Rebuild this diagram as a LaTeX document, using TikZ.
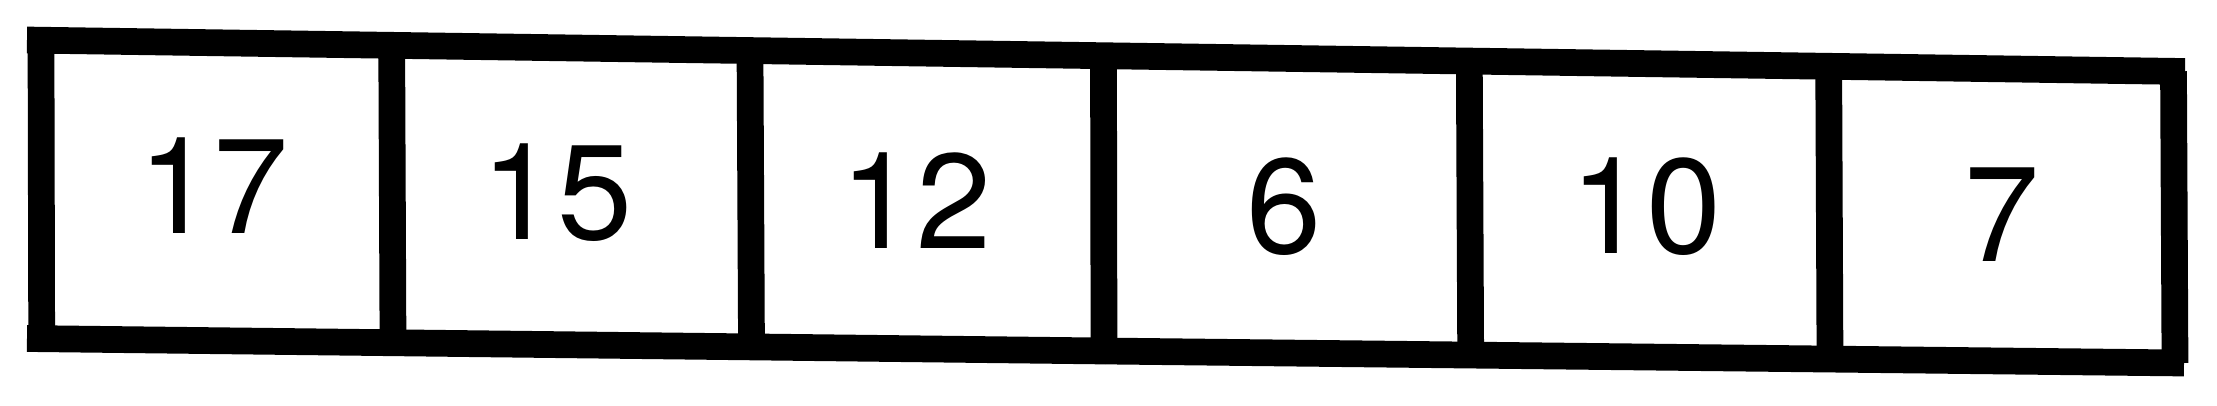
\documentclass[tikz,border=0pt]{standalone}
\usepackage{fontspec}
\setmainfont{TeX Gyre Heros}
\begin{document}
\begin{tikzpicture}[x=0.01cm, y=-0.01cm,
  wall/.style={line width=7.6pt},
  cell/.style={font=\fontsize{38.4}{46}\selectfont}]
  \useasboundingbox (0,0) rectangle (2217,405);
  % ends of the top and bottom bars
  \coordinate (tl) at (27,40);
  \coordinate (tr) at (2185,71.5);
  \coordinate (bl) at (27,338.5);
  \coordinate (bm) at (1106,351);
  \coordinate (br) at (2184,363);
  % cell walls
  \foreach \i/\xt/\yt/\xb/\yb in {0/41/40.2/41.7/338.7, 1/391.7/45.3/393/342.6,
      2/750/50.6/751.5/346.7, 3/1103.5/55.7/1104/350.7, 4/1469.3/61.1/1470.7/354.9,
      5/1828.7/66.3/1830/359, 6/2173.5/71.3/2175/362.9} {
    \coordinate (t\i) at (\xt,\yt);
    \coordinate (b\i) at (\xb,\yb);
    \draw[wall] (t\i) -- (b\i);
  }
  \draw[wall] (tl) -- (tr);
  \draw[wall] (bl) -- (bm);
  \draw[wall] (bm) -- (br);
  % values
  \foreach \val/\x/\y [count=\i] in {17/213.5/186, 15/557/192.5, 12/916/201,
      6/1284.5/206.7, 10/1646/206.5, 7/2002/215}
    \node[cell] (v\i) at (\x,\y) {\val};
\end{tikzpicture}
\end{document}
